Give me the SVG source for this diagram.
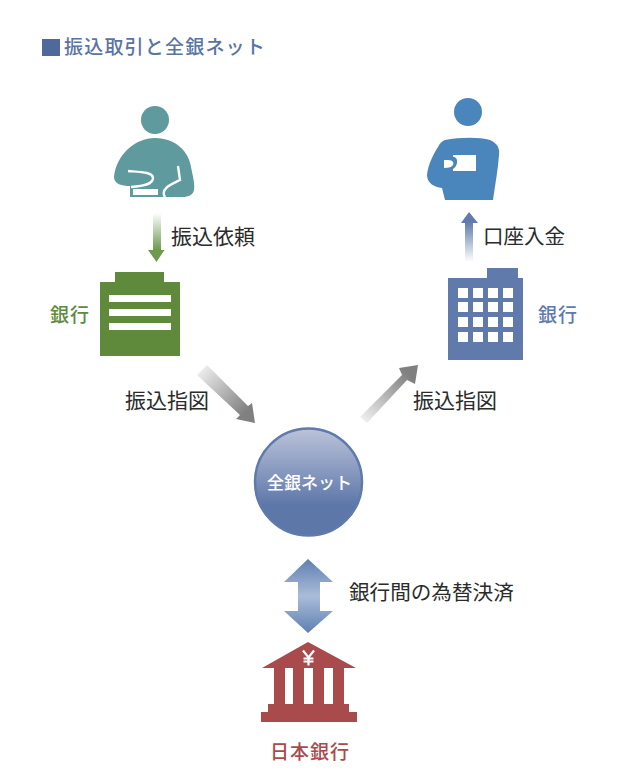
<svg xmlns="http://www.w3.org/2000/svg" width="642" height="780" viewBox="0 0 642 780">
<style>
text{font-family:"Noto Sans CJK JP","Noto Sans CJK SC",sans-serif}
.lb{font-size:21px;fill:#2b2b2b;font-weight:400}
.cap{font-size:19px;letter-spacing:1px;font-weight:500}
.w{fill:#fff}
</style>
<defs>
<linearGradient id="gG" x1="0" y1="0" x2="0" y2="1"><stop offset="0" stop-color="#fff"/><stop offset="0.75" stop-color="#6d9a4f"/></linearGradient>
<linearGradient id="gB" x1="0" y1="1" x2="0" y2="0"><stop offset="0" stop-color="#fff"/><stop offset="0.8" stop-color="#5f7aab"/></linearGradient>
<linearGradient id="gA" gradientUnits="userSpaceOnUse" x1="200" y1="368" x2="246" y2="412"><stop offset="0" stop-color="#f0f0f0"/><stop offset="1" stop-color="#808080"/></linearGradient>
<linearGradient id="gC" gradientUnits="userSpaceOnUse" x1="362" y1="420" x2="408" y2="374"><stop offset="0" stop-color="#f0f0f0"/><stop offset="1" stop-color="#808080"/></linearGradient>
<linearGradient id="gD" x1="0" y1="0" x2="0" y2="1"><stop offset="0" stop-color="#5e80b2"/><stop offset="0.5" stop-color="#aabcd8"/><stop offset="1" stop-color="#5e80b2"/></linearGradient>
<linearGradient id="gN" x1="0" y1="0" x2="0" y2="1"><stop offset="0" stop-color="#bcc3da"/><stop offset="0.72" stop-color="#5d77a9"/><stop offset="1" stop-color="#5d77a9"/></linearGradient>
</defs>
<g id="title"><rect x="42" y="39" width="18" height="17" fill="#50699b"/><text x="64" y="54" font-size="19px" font-weight="500" letter-spacing="1.2" fill="#5a74a2">振込取引と全銀ネット</text></g>
<g id="connectors">
<path d="M153 213H161V250H164.500L156.500 262L148 250H153Z" fill="url(#gG)"/>
<path d="M465 262V223H461L469 212L478 223H473V262Z" fill="url(#gB)"/>
<path d="M197 375L207 365L248 406L252 403L255 423L236 419L240 415Z" fill="url(#gA)"/>
<path d="M360 417L367 423L407 380L415 384L418 365L399 368L402 375Z" fill="url(#gC)"/>
<path d="M308 559L333 582H320V611H333L308 633L284 611H298V582H284Z" fill="url(#gD)"/>
</g>
<g id="sender">
<circle cx="155" cy="120" r="14" fill="#5f9a9e"/>
<path d="M114 177C116 155 135 138 155 138C176 138 189 152 191 167C193 177 195 184 194 190C193 195 188 197 183 197H130V186C122 186 114 184 114 177Z" fill="#5f9a9e"/>
<rect x="133" y="189" width="25" height="6" fill="#fff"/>
<path d="M128 171C140 172 153 172 153 178C153 184 145 186 131 187" fill="none" stroke="#fff" stroke-width="2.400"/>
<path d="M178 166L180 180C170 185 160 189 165 197" fill="none" stroke="#fff" stroke-width="2.400"/>
</g>
<g id="receiver">
<circle cx="468" cy="112" r="14" fill="#4a86bb"/>
<path d="M445 140C460 137 480 137 490 140C497 143 500 148 499 155C498 170 495 185 493 200H445L442 188C434 187 427 183 427 175C428 165 433 155 438 147C440 143 442 141 445 140Z" fill="#4a86bb"/>
<rect x="453" y="155" width="23" height="16" fill="#fff"/>
<path d="M449 157C455 155 458 159 457 163C456 168 452 170 449 170Z" fill="#4a86bb"/>
<path d="M444 160H448C453 160 454 163 453 165C452 167 449 168 444 168Z" fill="#fff"/>
</g>
<g id="bankA">
<path d="M115 272H164V282H180V356H100V282H115Z" fill="#5f8a3c"/>
<rect x="109" y="295" width="62" height="7" fill="#fff"/><rect x="109" y="309" width="62" height="7" fill="#fff"/><rect x="109" y="323" width="62" height="7" fill="#fff"/>
<text x="50" y="322" class="cap" fill="#5f8a3c">銀行</text>
</g>
<g id="bankB">
<path d="M487 268H518V278H523V360H448V278H487Z" fill="#5f7aab"/>
<path class="w" d="M458 288h10v10h-10zM473 288h10v10h-10zM488 288h10v10h-10zM503 288h10v10h-10zM458 302h10v10h-10zM473 302h10v10h-10zM488 302h10v10h-10zM503 302h10v10h-10zM458 317h10v10h-10zM473 317h10v10h-10zM488 317h10v10h-10zM503 317h10v10h-10zM458 332h10v10h-10zM473 332h10v10h-10zM488 332h10v10h-10zM503 332h10v10h-10z"/>
<text x="538" y="322" class="cap" fill="#5f7aab">銀行</text>
</g>
<g id="zengin">
<circle cx="308.500" cy="482" r="53.500" fill="url(#gN)" stroke="#5f7aab" stroke-width="2.500"/>
<text x="267" y="489" font-size="17px" font-weight="500" fill="#fff">全銀ネット</text>
</g>
<g id="boj">
<path d="M308 642L356 668H344V704H349V712H357V722H261V712H268V704H274V668H262Z" fill="#a94a4c"/>
<rect x="285" y="668" width="8" height="36" fill="#fff"/><rect x="304" y="668" width="9" height="36" fill="#fff"/><rect x="324" y="668" width="9" height="36" fill="#fff"/>
<path d="M303 650.500L308.500 657.500L314 650.500M308.500 657.500V665.500M303.500 658.500H313.500M303.500 661.500H313.500" fill="none" stroke="#fff" stroke-width="2.200"/>
<text x="270" y="759" class="cap" fill="#a94a4c">日本銀行</text>
</g>
<g id="labels">
<text x="171" y="244" class="lb">振込依頼</text>
<text x="483" y="244" font-size="20.500px" fill="#2b2b2b">口座入金</text>
<text x="125" y="408" class="lb">振込指図</text>
<text x="413" y="408" class="lb">振込指図</text>
<text x="349" y="600" class="lb" style="font-size:20.600px">銀行間の為替決済</text>
</g>
</svg>
